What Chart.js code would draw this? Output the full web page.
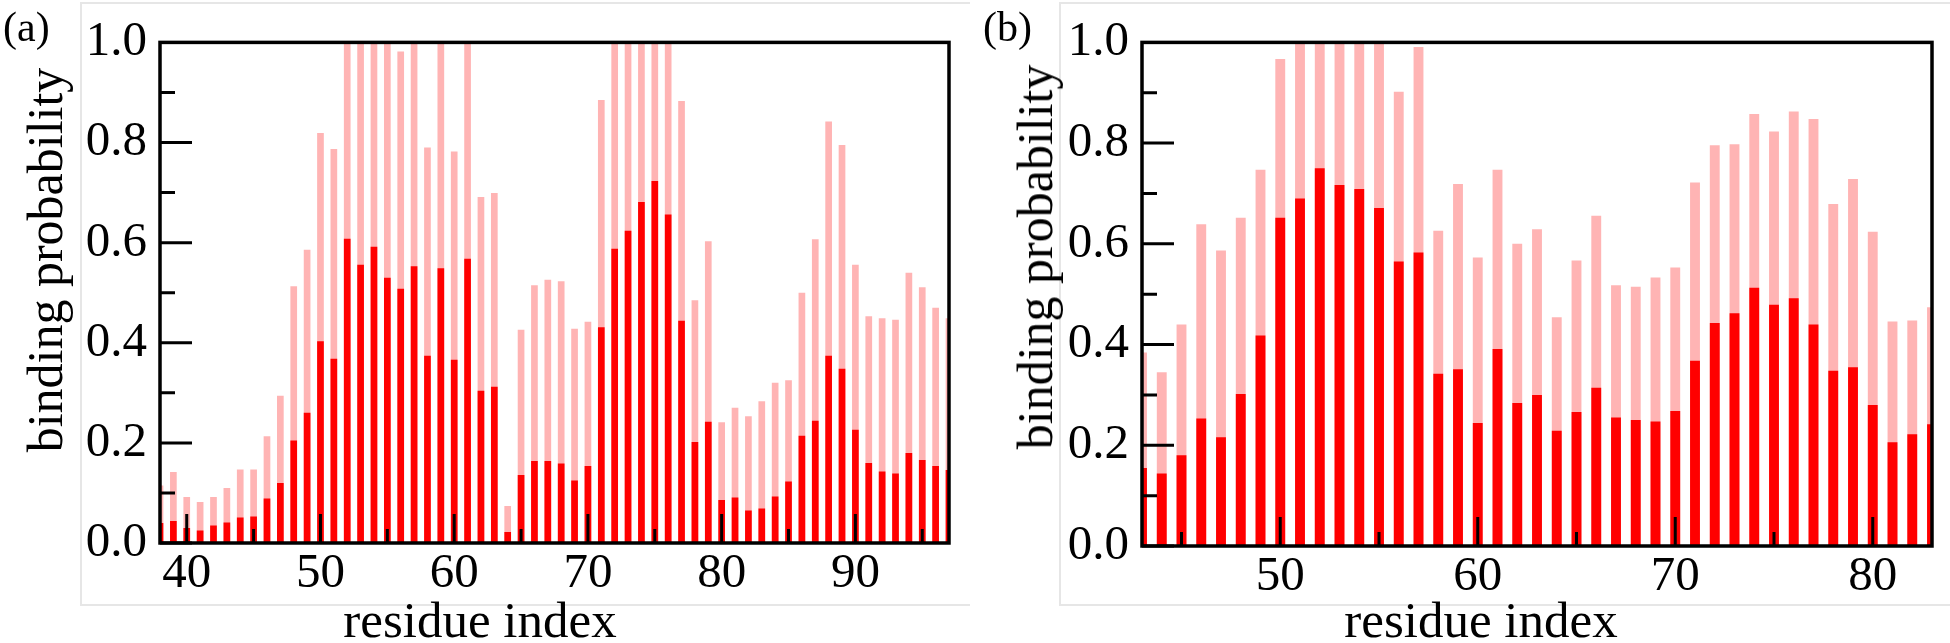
<!DOCTYPE html>
<html>
<head>
<meta charset="utf-8">
<script src="https://cdn.jsdelivr.net/npm/chart.js@4.4.1/dist/chart.umd.min.js"></script>
<style>
  html, body { margin: 0; padding: 0; background: #fff; overflow: hidden; }
  #wrap { position: relative; width: 1950px; height: 643px; font-family: "Liberation Serif", "Times New Roman", serif; color: #000; }
  canvas { position: absolute; top: 0; }
  .frame { position: absolute; top: 2px; height: 600px; border-top: 2px solid #e6e6e6; border-left: 2px solid #e6e6e6; border-bottom: 2px solid #e6e6e6; }
  .lbl { position: absolute; white-space: nowrap; line-height: 1; }
  .panel { font-size: 42px; top: 6px; }
  .xtitle { font-size: 51px; top: 595px; transform: translateX(-50%); }
  .ytitle { font-size: 50px; transform: translate(-50%, -50%) rotate(-90deg); }
</style>
</head>
<body>
<div id="wrap">
  <div class="frame" style="left:80px; width:888px;"></div>
  <div class="frame" style="left:1059px; width:891px;"></div>
  <canvas id="chartA" width="975" height="643" style="left:0"></canvas>
  <canvas id="chartB" width="975" height="643" style="left:975px"></canvas>
  <div class="lbl panel" style="left:3px;">(a)</div>
  <div class="lbl panel" style="left:983px;">(b)</div>
  <div class="lbl ytitle" style="left:45px; top:260px;">binding probability</div>
  <div class="lbl ytitle" style="left:1035px; top:257px;">binding probability</div>
  <div class="lbl xtitle" style="left:480px;">residue index</div>
  <div class="lbl xtitle" style="left:1481px;">residue index</div>
</div>
<script>
// panel (a)
const residuesA = [38, 39, 40, 41, 42, 43, 44, 45, 46, 47, 48, 49, 50, 51, 52, 53, 54, 55, 56, 57,
                   58, 59, 60, 61, 62, 63, 64, 65, 66, 67, 68, 69, 70, 71, 72, 73, 74, 75, 76, 77,
                   78, 79, 80, 81, 82, 83, 84, 85, 86, 87, 88, 89, 90, 91, 92, 93, 94, 95, 96, 97];
const totalA = [0.115, 0.142, 0.092, 0.082, 0.092, 0.110, 0.147, 0.147, 0.213, 0.294,
                0.513, 0.586, 0.819, 0.787, 1.000, 1.000, 1.000, 1.000, 0.982, 1.000,
                0.790, 1.000, 0.782, 1.000, 0.691, 0.699, 0.074, 0.426, 0.515, 0.526,
                0.523, 0.428, 0.442, 0.885, 1.000, 1.000, 1.000, 1.000, 1.000, 0.883,
                0.485, 0.603, 0.241, 0.270, 0.253, 0.283, 0.320, 0.325, 0.500, 0.607,
                0.842, 0.795, 0.556, 0.453, 0.449, 0.446, 0.540, 0.511, 0.470, 0.449];
const strongA = [0.040, 0.044, 0.030, 0.025, 0.035, 0.041, 0.051, 0.053, 0.089, 0.120,
                 0.205, 0.260, 0.403, 0.368, 0.608, 0.556, 0.592, 0.530, 0.508, 0.553,
                 0.374, 0.549, 0.366, 0.568, 0.304, 0.312, 0.022, 0.136, 0.164, 0.164,
                 0.159, 0.125, 0.154, 0.431, 0.588, 0.624, 0.681, 0.723, 0.656, 0.444,
                 0.202, 0.242, 0.086, 0.091, 0.065, 0.069, 0.093, 0.123, 0.214, 0.244,
                 0.374, 0.348, 0.226, 0.160, 0.143, 0.139, 0.180, 0.166, 0.154, 0.146];
const xTicksA = [40, 50, 60, 70, 80, 90];
const xMinorA = [45, 55, 65, 75, 85, 95];

// panel (b)
const residuesB = [43, 44, 45, 46, 47, 48, 49, 50, 51, 52, 53, 54, 55, 56, 57, 58, 59, 60, 61, 62,
                   63, 64, 65, 66, 67, 68, 69, 70, 71, 72, 73, 74, 75, 76, 77, 78, 79, 80, 81, 82, 83];
const totalB = [0.384, 0.345, 0.440, 0.639, 0.587, 0.652, 0.747, 0.967, 1.000, 1.000,
                1.000, 1.000, 1.000, 0.902, 0.991, 0.626, 0.719, 0.573, 0.747, 0.600,
                0.629, 0.454, 0.567, 0.656, 0.518, 0.515, 0.533, 0.553, 0.722, 0.796,
                0.798, 0.858, 0.823, 0.863, 0.848, 0.679, 0.729, 0.624, 0.446, 0.448, 0.474];
const strongB = [0.155, 0.144, 0.180, 0.253, 0.216, 0.302, 0.418, 0.652, 0.690, 0.750,
                 0.717, 0.709, 0.671, 0.565, 0.583, 0.342, 0.351, 0.244, 0.391, 0.284,
                 0.300, 0.229, 0.266, 0.314, 0.255, 0.250, 0.247, 0.268, 0.368, 0.443,
                 0.462, 0.513, 0.479, 0.492, 0.440, 0.348, 0.355, 0.280, 0.206, 0.222, 0.242];
const xTicksB = [50, 60, 70, 80];
const xMinorB = [45, 55, 65, 75];

const yTicks = [0, 0.2, 0.4, 0.6, 0.8, 1.0];
const yMinor = [0.1, 0.3, 0.5, 0.7, 0.9];

const serif = '"Liberation Serif", "Times New Roman", serif';
Chart.defaults.font.family = serif;
Chart.defaults.color = '#000';

// inward ticks + black box round the plot
const frameTicks = {
  id: 'frameTicks',
  afterDatasetsDraw(chart, args, opts) {
    const { ctx, chartArea: a, scales: { x, y } } = chart;
    ctx.save();
    ctx.strokeStyle = '#000';
    ctx.lineWidth = 3;
    ctx.beginPath();
    opts.xMajor.forEach(v => { const p = x.getPixelForValue(v); ctx.moveTo(p, a.bottom); ctx.lineTo(p, a.bottom - 29); });
    opts.xMinor.forEach(v => { const p = x.getPixelForValue(v); ctx.moveTo(p, a.bottom); ctx.lineTo(p, a.bottom - 14); });
    yTicks.forEach(v => { const p = y.getPixelForValue(v); ctx.moveTo(a.left, p); ctx.lineTo(a.left + 32, p); });
    yMinor.forEach(v => { const p = y.getPixelForValue(v); ctx.moveTo(a.left, p); ctx.lineTo(a.left + 15, p); });
    ctx.stroke();
    ctx.lineWidth = 3.5;
    ctx.strokeRect(a.left, a.top, a.right - a.left, a.bottom - a.top);
    ctx.restore();
  }
};

function makeChart(id, residues, total, strong, xMin, xMax, xTicks, xMinor, pad, yWidth, xHeight) {
  const pts = arr => arr.map((v, i) => ({ x: residues[i], y: v }));
  return new Chart(document.getElementById(id), {
    type: 'bar',
    data: {
      datasets: [
        { data: pts(strong), backgroundColor: '#ff0000' },
        { data: pts(total), backgroundColor: '#ffb4b4' }
      ]
    },
    options: {
      responsive: false,
      animation: false,
      devicePixelRatio: 1,
      layout: { padding: pad },
      datasets: { bar: { grouped: false, barPercentage: 0.5, categoryPercentage: 1, borderWidth: 0 } },
      plugins: {
        legend: { display: false },
        tooltip: { enabled: false },
        frameTicks: { xMajor: xTicks, xMinor: xMinor }
      },
      scales: {
        x: {
          type: 'linear',
          min: xMin,
          max: xMax,
          offset: false,
          grid: { display: false, drawTicks: false },
          border: { display: false },
          afterBuildTicks: s => { s.ticks = xTicks.map(v => ({ value: v })); },
          afterFit: s => { s.height = xHeight; },
          ticks: { color: '#000', padding: 2, maxRotation: 0, font: { family: serif, size: 49 } }
        },
        y: {
          min: 0,
          max: 1,
          grid: { display: false, drawTicks: false },
          border: { display: false },
          afterBuildTicks: s => { s.ticks = yTicks.map(v => ({ value: v })); },
          afterFit: s => { s.width = yWidth; },
          ticks: { color: '#000', padding: 13, font: { family: serif, size: 49 }, callback: v => v.toFixed(1) }
        }
      }
    },
    plugins: [frameTicks]
  });
}

makeChart('chartA', residuesA, totalA, strongA, 38, 97, xTicksA, xMinorA,
  { top: 31, right: 26, left: 0, bottom: 0 }, 160, 100);
makeChart('chartB', residuesB, totalB, strongB, 43, 83, xTicksB, xMinorB,
  { top: 32, right: 18, left: 0, bottom: 0 }, 167, 97);
</script>
</body>
</html>
